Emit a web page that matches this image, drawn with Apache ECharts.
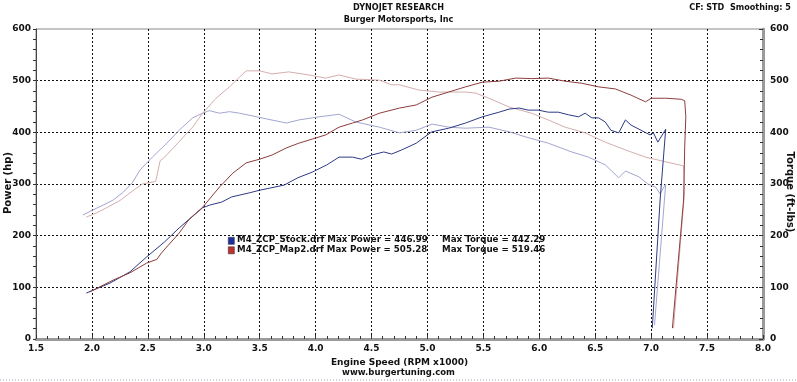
<!DOCTYPE html>
<html>
<head>
<meta charset="utf-8">
<script src="https://cdn.jsdelivr.net/npm/echarts@6/dist/echarts.min.js"></script>
<style>html,body{margin:0;padding:0;background:#fff;}#c{width:797px;height:382px;}</style>
</head>
<body>
<div id="c"></div>
<script>
// ---- data (rpm x1000, value) ----
var stockPower = [[1.95,89],[2.16,108],[2.34,130],[2.49,159],[2.65,188],[2.78,215],[2.99,254],[3.05,259],[3.16,265],[3.25,275],[3.41,283],[3.50,288],[3.59,292],[3.72,298],[3.84,312],[3.97,323],[4.10,337],[4.21,352],[4.33,352],[4.41,348],[4.50,356],[4.61,362],[4.68,358],[4.77,366],[4.90,379],[5.00,395],[5.04,401],[5.19,408],[5.34,418],[5.49,430],[5.64,439],[5.73,445],[5.82,447],[5.90,443],[5.99,443],[6.08,439],[6.17,439],[6.26,434],[6.35,430],[6.41,437],[6.47,428],[6.53,428],[6.59,420],[6.64,404],[6.71,399],[6.77,424],[6.82,414],[6.91,404],[6.99,395],[7.02,399],[7.06,381],[7.13,406],[7.08,269],[7.01,21]];
var stockTorque = [[1.92,240],[2.01,250],[2.10,259],[2.19,269],[2.28,284],[2.36,302],[2.43,327],[2.54,352],[2.67,379],[2.78,404],[2.90,428],[2.99,437],[3.05,442],[3.14,437],[3.23,440],[3.32,437],[3.43,432],[3.56,426],[3.74,418],[3.85,424],[4.03,430],[4.21,435],[4.36,420],[4.57,410],[4.75,399],[4.90,404],[5.04,416],[5.19,410],[5.34,408],[5.55,410],[5.73,401],[5.88,391],[6.08,379],[6.29,362],[6.44,352],[6.59,337],[6.71,312],[6.77,325],[6.89,314],[6.97,300],[7.04,294],[7.08,281],[7.13,300],[7.03,27]];
var map2Power = [[1.98,91],[2.19,114],[2.34,128],[2.49,147],[2.58,154],[2.62,166],[2.66,176],[2.78,205],[2.87,232],[2.99,255],[3.14,294],[3.26,321],[3.38,341],[3.50,348],[3.61,356],[3.74,370],[3.85,379],[3.97,387],[4.09,395],[4.21,410],[4.33,418],[4.42,424],[4.57,437],[4.75,447],[4.90,453],[5.04,468],[5.19,478],[5.34,488],[5.49,497],[5.64,499],[5.79,505],[5.93,504],[6.08,505],[6.23,499],[6.38,495],[6.53,488],[6.68,484],[6.82,472],[6.95,459],[7.00,466],[7.13,466],[7.27,464],[7.30,461],[7.31,430],[7.30,372],[7.29,269],[7.19,21]];
var map2Torque = [[1.95,236],[2.04,244],[2.13,254],[2.25,268],[2.36,286],[2.45,300],[2.57,305],[2.61,345],[2.65,352],[2.72,368],[2.81,389],[2.90,410],[2.99,437],[3.11,466],[3.23,488],[3.32,507],[3.38,519],[3.50,519],[3.61,513],[3.76,517],[3.94,511],[4.09,505],[4.21,511],[4.36,503],[4.57,501],[4.68,492],[4.75,492],[4.92,482],[5.10,478],[5.34,478],[5.43,476],[5.55,466],[5.73,449],[5.93,437],[6.08,424],[6.23,410],[6.41,399],[6.59,381],[6.77,366],[6.95,352],[7.13,343],[7.29,335],[7.30,333],[7.30,288],[7.20,21]];

var runNames = ['M4_ZCP_Stock.drf', 'M4_ZCP_Map2.drf'];
var maxPower = ['446.99', '505.28'];
var maxTorque = ['442.29', '519.46'];
var runColors = ['#1c2fa0', '#c0302c'];

var titleMain = 'DYNOJET RESEARCH';
var titleSub = 'Burger Motorsports, Inc';
var titleRight = 'CF: STD  Smoothing: 5';
var footer = 'www.burgertuning.com';
var xName = 'Engine Speed (RPM x1000)';
var yLeftName = 'Power (hp)';
var yRightName = 'Torque (ft-lbs)';

var FONT = 'DejaVu Sans';
var FONTC = 'DejaVu Sans Condensed';

var chart = echarts.init(document.getElementById('c'), null, {renderer: 'canvas'});

var grid = {left: 36, right: 34, top: 29, bottom: 43, show: true, borderColor: '#8a8a8a', borderWidth: 1, outerBoundsMode: 'none', containLabel: false};

var splitStyle = {show: true, showMinLine: false, showMaxLine: false, lineStyle: {color: '#111', width: 1, type: [2, 2]}};

var g = [];
for (var i = 0; i < runNames.length; i++) {
  g.push({type: 'rect', left: 228, top: 237 + i * 9.5, shape: {width: 6, height: 7}, style: {fill: runColors[i], stroke: '#333', lineWidth: 0.6}});
  g.push({type: 'text', left: 237, top: 235.5 + i * 9.5, style: {text: runNames[i] + ' Max Power = ' + maxPower[i], font: 'bold 8.7px ' + FONT, fill: '#111'}});
  g.push({type: 'text', left: 442, top: 235.5 + i * 9.5, style: {text: 'Max Torque = ' + maxTorque[i], font: 'bold 8.7px ' + FONT, fill: '#111'}});
}
g.push({type: 'line', shape: {x1: 0, y1: 380, x2: 797, y2: 380}, style: {stroke: '#9aa0b0', lineWidth: 1, lineDash: [1, 2]}});
g.push({type: 'text', left: 'center', top: 368, style: {text: footer, font: 'bold 8.5px ' + FONT, fill: '#111'}});
g.push({type: 'text', x: 8, y: 183, rotation: Math.PI / 2, style: {text: yLeftName, font: 'bold 10px ' + FONT, fill: '#111', align: 'center', verticalAlign: 'middle'}});
g.push({type: 'text', x: 790, y: 192, rotation: -Math.PI / 2, style: {text: yRightName, font: 'bold 10px ' + FONT, fill: '#111', align: 'center', verticalAlign: 'middle'}});

var option = {
  backgroundColor: '#fff',
  animation: false,
  title: [
    {text: titleMain, left: 'center', top: 3, textStyle: {fontFamily: FONTC, fontSize: 9, fontWeight: 'bold', color: '#111'}, padding: 0},
    {text: titleSub, left: 'center', top: 15, textStyle: {fontFamily: FONTC, fontSize: 9, fontWeight: 'bold', color: '#111'}, padding: 0},
    {text: titleRight, right: 6, top: 3, textStyle: {fontFamily: FONTC, fontSize: 9, fontWeight: 'bold', color: '#111'}, padding: 0}
  ],
  grid: grid,
  xAxis: {
    type: 'value', min: 1.5, max: 8.0, interval: 0.5,
    name: xName, nameLocation: 'middle', nameGap: 14,
    nameTextStyle: {fontFamily: FONT, fontSize: 9, fontWeight: 'bold', color: '#111'},
    axisLine: {show: true, onZero: false, lineStyle: {color: '#9a9a9a', width: 3}},
    axisTick: {show: true, inside: true, length: 4, lineStyle: {color: '#333', width: 1}},
    minorTick: {show: true, splitNumber: 5, length: 3, lineStyle: {color: '#333'}},
    axisLabel: {fontFamily: FONT, fontSize: 9, fontWeight: 'bold', color: '#111', margin: 5, formatter: function (v) { return v.toFixed(1); }},
    splitLine: splitStyle
  },
  yAxis: [
    {
      type: 'value', min: 0, max: 600, interval: 100, position: 'left',
      axisLine: {show: true, lineStyle: {color: '#444', width: 1}},
      axisTick: {show: true, length: 3, lineStyle: {color: '#333'}},
      minorTick: {show: true, splitNumber: 5, length: 3, lineStyle: {color: '#333'}},
      axisLabel: {fontFamily: FONT, fontSize: 9, fontWeight: 'bold', color: '#111', margin: 5},
      splitLine: splitStyle
    },
    {
      type: 'value', min: 0, max: 600, interval: 100, position: 'right',
      axisLine: {show: true, lineStyle: {color: '#9a9a9a', width: 3}},
      axisTick: {show: true, inside: true, length: 4, lineStyle: {color: '#333'}},
      minorTick: {show: true, splitNumber: 5, length: 3, lineStyle: {color: '#333'}},
      axisLabel: {fontFamily: FONT, fontSize: 9, fontWeight: 'bold', color: '#111', margin: 7},
      splitLine: {show: false}
    }
  ],
  graphic: g,
  series: [
    {name: 'Stock Power', type: 'line', data: stockPower, yAxisIndex: 0, showSymbol: false, lineStyle: {color: '#2e3a84', width: 1}, itemStyle: {color: '#2e3a84'}, z: 5},
    {name: 'Stock Torque', type: 'line', data: stockTorque, yAxisIndex: 1, showSymbol: false, lineStyle: {color: '#a3a6d0', width: 1}, itemStyle: {color: '#a3a6d0'}, z: 4},
    {name: 'Map2 Power', type: 'line', data: map2Power, yAxisIndex: 0, showSymbol: false, lineStyle: {color: '#8e3d3d', width: 1}, itemStyle: {color: '#8e3d3d'}, z: 5},
    {name: 'Map2 Torque', type: 'line', data: map2Torque, yAxisIndex: 1, showSymbol: false, lineStyle: {color: '#d6aeae', width: 1}, itemStyle: {color: '#d6aeae'}, z: 4}
  ]
};
chart.setOption(option);
</script>
</body>
</html>
